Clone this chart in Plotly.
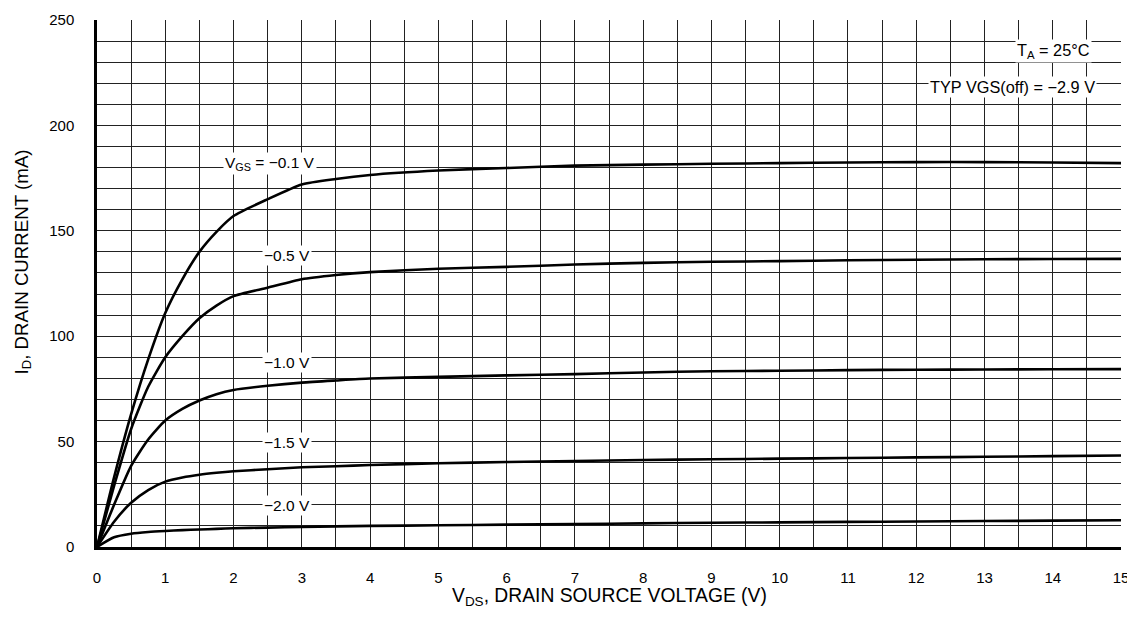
import plotly.graph_objects as go

# V_DS sample points (V)
vds = [0, 0.25, 0.5, 0.75, 1, 1.25, 1.5, 1.75, 2, 2.5, 3, 3.5, 4, 5, 6, 7, 8, 9, 10, 11, 12, 13, 14, 15]

# Drain current (mA) for each V_GS
id_m01 = [0, 33, 63, 89, 111, 127, 140, 149.5, 157, 165, 172, 174.6, 176.5, 178.6, 179.8, 180.9, 181.4, 181.8, 182.1, 182.4, 182.6, 182.6, 182.4, 182.1]
id_m05 = [0, 29, 56, 76, 90, 100, 108.5, 114.5, 119, 123, 127, 129, 130.4, 132, 132.9, 134, 134.8, 135.3, 135.6, 136, 136.3, 136.5, 136.6, 136.7]
id_m10 = [0, 20, 38.5, 51, 60, 65.5, 69.5, 72.5, 74.5, 76.5, 78, 79, 79.9, 80.7, 81.4, 82, 82.8, 83.4, 83.6, 83.9, 84.1, 84.2, 84.3, 84.4]
id_m15 = [0, 12, 21, 27, 31, 33, 34.3, 35.2, 35.9, 36.9, 37.8, 38.3, 38.9, 39.7, 40.3, 40.8, 41.3, 41.6, 41.9, 42.2, 42.5, 42.8, 43.1, 43.4]
id_m20 = [0, 4.6, 6.3, 7.1, 7.6, 8.0, 8.3, 8.6, 8.9, 9.2, 9.5, 9.8, 10.0, 10.3, 10.6, 10.9, 11.2, 11.5, 11.7, 11.9, 12.1, 12.3, 12.5, 12.7]

series = [id_m01, id_m05, id_m10, id_m15, id_m20]

# curve labels: text, x, y (data coords)
label_text = ["V<sub>GS</sub> = −0.1 V", "−0.5 V", "−1.0 V", "−1.5 V", "−2.0 V"]
label_x = [2.53, 2.78, 2.78, 2.78, 2.78]
label_y = [182, 138.5, 87.5, 49.5, 19.5]

FONT = "Liberation Sans, Arial, Helvetica, sans-serif"

fig = go.Figure()
for ys in series:
    fig.add_trace(go.Scatter(x=vds, y=ys, mode="lines",
                             line=dict(color="black", width=2.6, shape="spline", smoothing=0.6),
                             showlegend=False, hoverinfo="skip"))

for t, x, y in zip(label_text, label_x, label_y):
    fig.add_annotation(x=x, y=y, text=t, showarrow=False, bgcolor="white",
                       font=dict(family=FONT, size=15.5, color="black"), borderpad=1)

fig.add_annotation(x=14.57, y=235.2, xanchor="right", text="T<sub>A</sub> = 25°C", showarrow=False,
                   bgcolor="white", font=dict(family=FONT, size=16.3, color="black"), borderpad=1)
fig.add_annotation(x=14.65, y=218.4, xanchor="right", text="TYP VGS(off) = −2.9 V", showarrow=False,
                   bgcolor="white", font=dict(family=FONT, size=16.3, color="black"), borderpad=1)

# axis titles
fig.add_annotation(xref="paper", yref="paper", x=0.5, y=0, yshift=-50, yanchor="middle",
                   text="V<sub>DS</sub>, DRAIN SOURCE VOLTAGE (V)", showarrow=False,
                   font=dict(family=FONT, size=19.3, color="black"))
fig.add_annotation(xref="paper", yref="paper", x=0, y=0.5, xshift=-75, yshift=21, xanchor="center",
                   textangle=-90, text="I<sub>D</sub>, DRAIN CURRENT (mA)", showarrow=False,
                   font=dict(family=FONT, size=18.7, color="black"))

fig.update_xaxes(range=[0, 15], dtick=1, tick0=0, showgrid=True, gridcolor="#222", gridwidth=1.3,
                 minor=dict(dtick=0.5, showgrid=True, gridcolor="#222", gridwidth=1.3),
                 showline=True, linecolor="black", linewidth=2.5, mirror=False, automargin=False,
                 ticks="outside", ticklen=15, tickcolor="rgba(0,0,0,0)",
                 tickfont=dict(family=FONT, size=15, color="black"), zeroline=False)
fig.update_yaxes(range=[0, 250], dtick=50, tick0=0, showgrid=True, gridcolor="#222", gridwidth=1.3,
                 minor=dict(dtick=10, showgrid=True, gridcolor="#222", gridwidth=1.3),
                 showline=True, linecolor="black", linewidth=2.5, mirror=False, automargin=False,
                 ticks="outside", ticklen=17, tickcolor="rgba(0,0,0,0)",
                 tickfont=dict(family=FONT, size=15, color="black"), zeroline=False)

# page body adds an 8px offset, so the figure is sized to fit the window
fig.update_layout(width=1127, height=627, margin=dict(l=89, r=14, t=12, b=88, autoexpand=False),
                  plot_bgcolor="white", paper_bgcolor="white", showlegend=False)

fig.write_html("out.html")
